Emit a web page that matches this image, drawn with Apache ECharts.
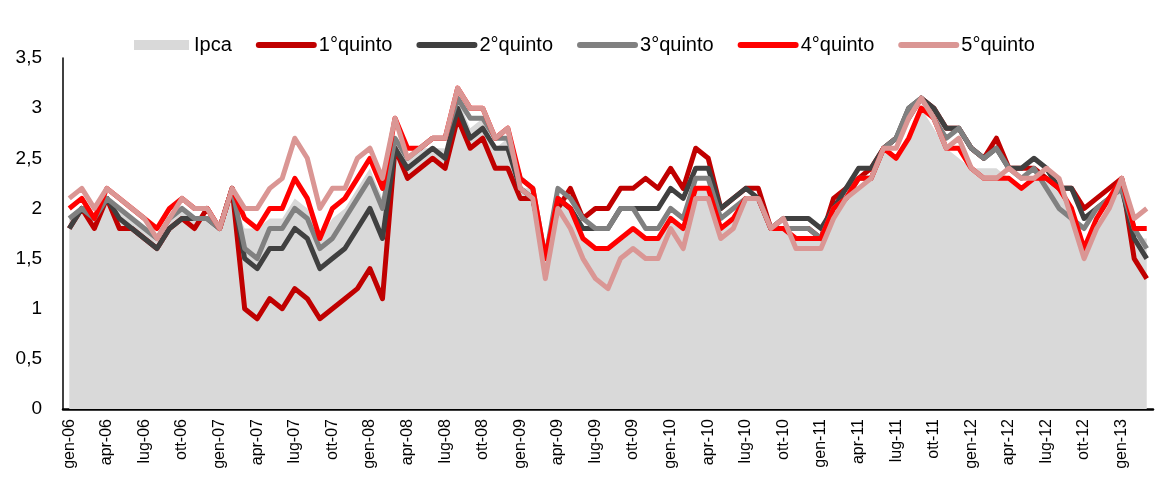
<!DOCTYPE html>
<html>
<head>
<meta charset="utf-8">
<script src="https://cdn.jsdelivr.net/npm/echarts/dist/echarts.min.js"></script>
<style>
  html, body { margin: 0; padding: 0; background: #fff; }
  #chart { width: 1162px; height: 501px; }
</style>
</head>
<body>
<div id="chart"></div>
<script>
// mesi da gen-06 a mar-13
var mesi = ['gen', 'feb', 'mar', 'apr', 'mag', 'giu', 'lug', 'ago', 'set', 'ott', 'nov', 'dic'];
var anni = ['06', '07', '08', '09', '10', '11', '12', '13'];
var categories = [];
for (var a = 0; a < anni.length; a++) {
    for (var m = 0; m < 12; m++) {
        if (anni[a] == '13' && m > 2) break;
        categories.push(mesi[m] + '-' + anni[a]);
    }
}

// inflazione per quintile
var ipca = [1.9, 2.0, 1.9, 2.1, 2.0, 1.9, 1.8, 1.7, 1.9, 2.0, 1.9, 1.9, 1.8, 2.1,
    1.8, 1.8, 1.9, 1.9, 2.1, 2.0, 1.7, 1.9, 2.0, 2.2, 2.4, 2.1,
    2.7, 2.5, 2.6, 2.6, 2.6, 3.1, 2.8, 2.9, 2.6, 2.7, 2.2, 2.2,
    1.5, 2.1, 2.0, 1.7, 1.6, 1.6, 1.7, 1.8, 1.7, 1.7, 1.9, 1.8, 2.2, 2.2, 1.8, 1.9, 2.1, 2.1,
    1.8, 1.8, 1.7, 1.7, 1.7, 1.9, 2.1, 2.2, 2.3, 2.6, 2.5, 2.7, 3.0, 2.8, 2.6,
    2.5, 2.4, 2.4, 2.4, 2.3, 2.2, 2.3, 2.3, 2.2, 2.0, 1.6, 1.8, 2.0, 2.2, 1.7, 1.7];
var q1 = [1.8, 2.0, 1.8, 2.1, 1.8, 1.8, 1.7, 1.6, 1.8, 1.9, 1.8, 2.0, 1.8, 2.2,
    1.0, 0.9, 1.1, 1.0, 1.2, 1.1, 0.9, 1.0, 1.1, 1.2, 1.4, 1.1,
    2.6, 2.3, 2.4, 2.5, 2.4, 2.9, 2.6, 2.7, 2.4, 2.4, 2.1, 2.1,
    1.5, 2.0, 2.2, 1.9, 2.0, 2.0, 2.2, 2.2, 2.3, 2.2, 2.4, 2.2, 2.6, 2.5, 2.0, 2.1, 2.2, 2.2,
    1.8, 1.8, 1.8, 1.8, 1.7, 2.1, 2.2, 2.3, 2.4, 2.6, 2.7, 2.9, 3.1, 3.0, 2.8,
    2.8, 2.6, 2.5, 2.7, 2.4, 2.4, 2.4, 2.3, 2.2, 2.2, 2.0, 2.1, 2.2, 2.3, 1.5, 1.3];
var q2 = [1.8, 2.0, 1.9, 2.1, 1.9, 1.8, 1.7, 1.6, 1.8, 1.9, 1.9, 1.9, 1.8, 2.2,
    1.5, 1.4, 1.6, 1.6, 1.8, 1.7, 1.4, 1.5, 1.6, 1.8, 2.0, 1.7,
    2.6, 2.4, 2.5, 2.6, 2.5, 3.0, 2.7, 2.8, 2.6, 2.6, 2.2, 2.1,
    1.5, 2.1, 2.0, 1.8, 1.8, 1.8, 2.0, 2.0, 2.0, 2.0, 2.2, 2.1, 2.4, 2.4, 2.0, 2.1, 2.2, 2.1,
    1.8, 1.9, 1.9, 1.9, 1.8, 2.0, 2.2, 2.4, 2.4, 2.6, 2.7, 3.0, 3.1, 3.0, 2.8,
    2.8, 2.6, 2.5, 2.6, 2.4, 2.4, 2.5, 2.4, 2.2, 2.2, 1.9, 2.0, 2.1, 2.2, 1.7, 1.5];
var q3 = [1.9, 2.0, 1.9, 2.1, 2.0, 1.9, 1.8, 1.7, 1.9, 2.0, 1.9, 1.9, 1.8, 2.2,
    1.6, 1.5, 1.8, 1.8, 2.0, 1.9, 1.6, 1.7, 1.9, 2.1, 2.3, 2.0,
    2.7, 2.5, 2.6, 2.7, 2.7, 3.1, 2.9, 2.9, 2.7, 2.7, 2.3, 2.2,
    1.5, 2.2, 2.1, 1.9, 1.8, 1.8, 2.0, 2.0, 1.8, 1.8, 2.0, 1.9, 2.3, 2.3, 1.9, 2.0, 2.1, 2.1,
    1.8, 1.8, 1.8, 1.8, 1.7, 2.0, 2.1, 2.3, 2.3, 2.6, 2.7, 3.0, 3.1, 2.9, 2.7,
    2.8, 2.6, 2.5, 2.6, 2.4, 2.3, 2.4, 2.2, 2.0, 1.9, 1.8, 2.0, 2.1, 2.2, 1.8, 1.6];
var q4 = [2.0, 2.1, 1.9, 2.2, 2.1, 2.0, 1.9, 1.8, 2.0, 2.1, 2.0, 2.0, 1.8, 2.2,
    1.9, 1.8, 2.0, 2.0, 2.3, 2.1, 1.7, 2.0, 2.1, 2.3, 2.5, 2.2,
    2.9, 2.6, 2.6, 2.7, 2.7, 3.2, 3.0, 3.0, 2.7, 2.8, 2.3, 2.2,
    1.5, 2.1, 2.0, 1.7, 1.6, 1.6, 1.7, 1.8, 1.7, 1.7, 1.9, 1.8, 2.2, 2.2, 1.8, 1.9, 2.1, 2.1,
    1.8, 1.8, 1.7, 1.7, 1.7, 2.0, 2.1, 2.3, 2.3, 2.6, 2.5, 2.7, 3.0, 2.9, 2.6,
    2.6, 2.4, 2.3, 2.3, 2.3, 2.2, 2.3, 2.3, 2.2, 2.0, 1.6, 1.9, 2.1, 2.3, 1.8, 1.8];
var q5 = [2.1, 2.2, 2.0, 2.2, 2.1, 2.0, 1.9, 1.7, 1.9, 2.1, 2.0, 2.0, 1.8, 2.2,
    2.0, 2.0, 2.2, 2.3, 2.7, 2.5, 2.0, 2.2, 2.2, 2.5, 2.6, 2.3,
    2.9, 2.5, 2.6, 2.7, 2.7, 3.2, 3.0, 3.0, 2.7, 2.8, 2.2, 2.1,
    1.3, 2.0, 1.8, 1.5, 1.3, 1.2, 1.5, 1.6, 1.5, 1.5, 1.8, 1.6, 2.1, 2.1, 1.7, 1.8, 2.1, 2.1,
    1.8, 1.9, 1.6, 1.6, 1.6, 1.9, 2.1, 2.2, 2.3, 2.6, 2.6, 2.9, 3.1, 2.9, 2.6,
    2.7, 2.4, 2.3, 2.3, 2.4, 2.3, 2.3, 2.4, 2.3, 1.9, 1.5, 1.8, 2.0, 2.3, 1.9, 2.0];

var nomi = ['1°quinto', '2°quinto', '3°quinto', '4°quinto', '5°quinto'];
var colori = ['#C00000', '#404040', '#808080', '#FF0000', '#DA9694'];
var serieQuinti = [q1, q2, q3, q4, q5];

var font = "'Liberation Sans', Arial, sans-serif";

var series = [{
    name: 'Ipca',
    type: 'line',
    data: ipca,
    symbol: 'none',
    lineStyle: { width: 0 },
    itemStyle: { color: '#D9D9D9' },
    areaStyle: { color: '#D9D9D9', opacity: 1 },
    animation: false
}];
var legendData = [{ name: 'Ipca', icon: 'rect' }];
for (var i = 0; i < serieQuinti.length; i++) {
    series.push({
        name: nomi[i],
        type: 'line',
        data: serieQuinti[i],
        symbol: 'none',
        itemStyle: { color: colori[i] },
        lineStyle: { color: colori[i], width: 5, join: 'round' },
        animation: false
    });
    // solo la linea nella legenda, senza il pallino
    legendData.push({
        name: nomi[i],
        itemStyle: { opacity: 0 },
        lineStyle: { width: 6, cap: 'round' }
    });
}

var chart = echarts.init(document.getElementById('chart'));
chart.setOption({
    animation: false,
    legend: {
        top: 30,
        left: 129,
        itemWidth: 55,
        itemHeight: 10,
        itemGap: 24,
        textStyle: { color: '#000', fontSize: 20, fontFamily: font },
        data: legendData
    },
    grid: { left: 63, right: 9, top: 58, bottom: 92 },
    xAxis: {
        type: 'category',
        data: categories,
        boundaryGap: true,
        axisLine: { lineStyle: { color: '#000', width: 2.5 } },
        axisTick: { show: false },
        axisLabel: {
            interval: 2,
            rotate: 90,
            color: '#000',
            fontSize: 16,
            fontFamily: font,
            margin: 10
        },
        splitLine: { show: false }
    },
    yAxis: {
        type: 'value',
        min: 0,
        max: 3.5,
        interval: 0.5,
        axisLine: { show: true, lineStyle: { color: '#000', width: 1.5 } },
        axisTick: { show: false },
        splitLine: { show: false },
        axisLabel: {
            color: '#000',
            fontSize: 19,
            fontFamily: font,
            margin: 21,
            formatter: function (v) { return String(v).replace('.', ','); }
        }
    },
    series: series
});
</script>
</body>
</html>
